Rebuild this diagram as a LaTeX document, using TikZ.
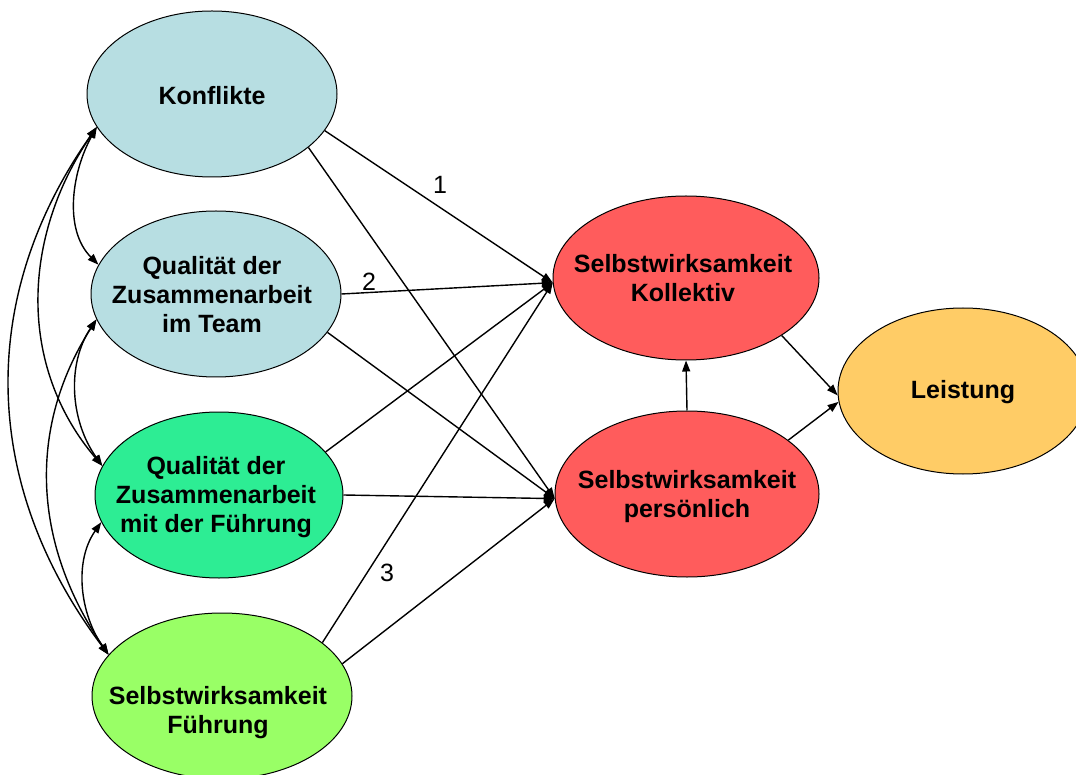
\documentclass[tikz,border=0pt]{standalone}
\usepackage{fontspec}
\setmainfont{Liberation Sans}
\usetikzlibrary{shapes.geometric,arrows.meta}
\definecolor{lblue}{RGB}{183,222,226}
\definecolor{mgreen}{RGB}{45,237,148}
\definecolor{lgreen}{RGB}{153,255,102}
\definecolor{sred}{RGB}{255,92,92}
\definecolor{lorange}{RGB}{255,204,102}
\begin{document}
\begin{tikzpicture}[x=1pt,y=-1pt,
  ell/.style={ellipse,draw=black,line width=1pt,inner sep=0pt,minimum height=166pt},
  txt/.style={font=\fontsize{25}{29}\selectfont\bfseries,align=center,text=black,inner sep=0pt},
  num/.style={font=\fontsize{25}{29}\selectfont,inner sep=0pt},
  arr/.style={line width=1.4pt,-{Triangle[length=11pt,width=8pt]}},
  darr/.style={line width=1.4pt,{Triangle[length=11pt,width=8pt]}-{Triangle[length=11pt,width=8pt]}}]
\useasboundingbox (0,0) rectangle (1076,775);
\fill[white] (0,0) rectangle (1076,775);

\node[ell,fill=lblue,minimum width=250pt,label={[txt,yshift=-2pt]center:Konflikte}] (kon) at (212,94) {};
\node[ell,fill=lblue,minimum width=250pt,label={[txt,xshift=-4pt,yshift=-1pt]center:{Qualität der\\Zusammenarbeit\\im Team}}] (team) at (216,294) {};
\node[ell,fill=mgreen,minimum width=248pt,label={[txt,xshift=-3pt,yshift=-2pt]center:{Qualität der\\Zusammenarbeit\\ mit der Führung}}] (fuehr) at (219,495) {};
\node[ell,fill=lgreen,minimum width=260pt,label={[txt,xshift=-4pt,yshift=-17pt]center:{Selbstwirksamkeit\\Führung}}] (swf) at (222,696) {};
\node[ell,fill=sred,minimum width=266pt,minimum height=164pt,label={[txt,xshift=-3pt]center:{Selbstwirksamkeit\\Kollektiv}}] (kol) at (686,278) {};
\node[ell,fill=sred,minimum width=264pt,label={[txt,yshift=-3pt]center:{Selbstwirksamkeit\\persönlich}}] (pers) at (687,494) {};
\node[ell,fill=lorange,minimum width=250pt,label={[txt,yshift=-1pt]center:Leistung}] (leist) at (963,391) {};

% straight paths
\draw[arr] (kon.-18.6) -- (kol.182);
\draw[arr] (kon.-29.6) -- (pers.182);
\draw[arr] (team.0) -- (kol.182);
\draw[arr] (team.-19.4) -- (pers.182);
\draw[arr] (fuehr.22.8) -- (kol.182);
\draw[arr] (fuehr.0) -- (pers.182);
\draw[arr] (swf.28.4) -- (kol.182);
\draw[arr] (swf.15.3) -- (pers.182);
\draw[arr] (pers.north) -- (kol.south);
\draw[arr] (kol.-31.8) -- (leist.182);
\draw[arr] (pers.28.3) -- (leist.185.4);

% numbers
\node[num] (n1) at (440,185) {1};
\node[num] (n2) at (369,282) {2};
\node[num] (n3) at (387,573) {3};

% correlations
\draw[darr] (kon.196.6) .. controls +(-25,45) and +(-35,-35) .. (team.166);
\draw[darr] (kon.196.6) .. controls +(-75,110) and +(-85,-100) .. (fuehr.166.4);
\draw[darr] (kon.196.6) .. controls +(-120,170) and +(-128,-170) .. (swf.160.7);
\draw[darr] (team.192.4) .. controls +(-30,45) and +(-32,-45) .. (fuehr.166.4);
\draw[darr] (team.192.4) .. controls +(-70,110) and +(-75,-110) .. (swf.160.7);
\draw[darr] (fuehr.193.6) .. controls +(-28,40) and +(-28,-40) .. (swf.160.7);
\end{tikzpicture}
\end{document}
